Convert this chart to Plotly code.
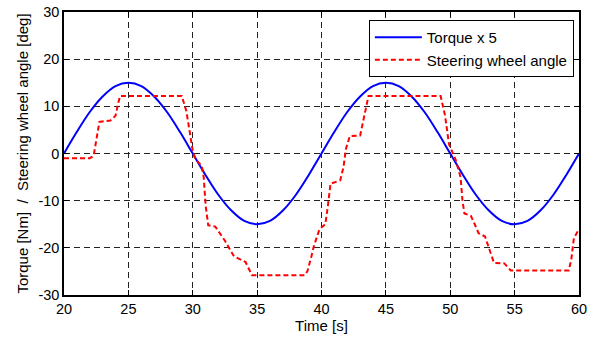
import plotly.graph_objects as go

# Torque x 5
torque_t = [20, 21, 22, 23, 24, 25, 26, 27, 28, 29, 30, 31, 32, 33, 34, 35, 36, 37, 38, 39, 40,
            41, 42, 43, 44, 45, 46, 47, 48, 49, 50, 51, 52, 53, 54, 55, 56, 57, 58, 59, 60]
torque_v = [0, 4.6, 8.8, 12.1, 14.3, 15, 14.3, 12.1, 8.8, 4.6, 0, -4.6, -8.8, -12.1, -14.3, -15,
            -14.3, -12.1, -8.8, -4.6, 0, 4.6, 8.8, 12.1, 14.3, 15, 14.3, 12.1, 8.8, 4.6, 0,
            -4.6, -8.8, -12.1, -14.3, -15, -14.3, -12.1, -8.8, -4.6, 0]

# Steering wheel angle
steer_t = [20, 22.0, 22.3, 22.5, 22.75, 23.6, 24.0, 24.2, 24.35, 29.15, 29.5, 29.8, 30.0, 30.2,
           30.7, 30.85, 31.0, 31.2, 31.75, 32.5, 33.2, 34.1, 34.4, 34.6, 38.7, 38.9, 39.2, 39.4,
           39.85, 40.3, 40.5, 40.7, 41.45, 41.7, 41.9, 42.2, 43.0, 43.3, 43.65, 49.25, 49.6,
           49.9, 50.4, 50.8, 50.95, 51.1, 51.6, 51.9, 52.2, 52.7, 53.1, 53.4, 54.2, 54.5, 54.7,
           59.2, 59.4, 59.6, 60]
steer_v = [-1, -1, -0.5, 3, 6.7, 7.0, 8.0, 10.5, 12.2, 12.2, 9, 4, 0.5, -1.2,
           -2.6, -5, -11, -15.2, -15.5, -18.5, -21.8, -23, -24.5, -25.8, -25.8, -25, -22, -19.7,
           -16, -15, -11, -6.4, -5.7, -3, 1, 3.7, 3.8, 8, 12.2, 12.2, 8,
           2, -1.2, -5, -10, -12.7, -13.2, -15, -16.9, -17.6, -21, -23.2, -23.3, -24.3, -24.8,
           -24.8, -22.5, -18, -16]

x_ticks = [20, 25, 30, 35, 40, 45, 50, 55, 60]
y_ticks = [-30, -20, -10, 0, 10, 20, 30]

FONT = "Liberation Sans, Arial"

fig = go.Figure()
fig.add_trace(go.Scatter(x=torque_t, y=torque_v, mode="lines", name="Torque x 5",
                         line=dict(color="#0000ff", width=2, shape="spline")))
fig.add_trace(go.Scatter(x=steer_t, y=steer_v, mode="lines", name="Steering wheel angle",
                         line=dict(color="#ff0000", width=2, dash="5px,3px")))

axis_common = dict(showline=True, linecolor="black", linewidth=1.5, mirror="ticks",
                   ticks="inside", ticklen=5, tickcolor="black", automargin=False,
                   showgrid=True, gridcolor="#222", gridwidth=1, griddash="6px,4px",
                   zeroline=False, tickfont=dict(family=FONT, size=14.5, color="black"))

fig.update_xaxes(range=[20, 60], tickvals=x_ticks, ticktext=[str(v) for v in x_ticks],
                 title=dict(text="Time [s]", font=dict(family=FONT, size=15, color="black"), standoff=3),
                 **axis_common)
fig.update_yaxes(range=[-30, 30], tickvals=y_ticks, ticktext=[str(v) for v in y_ticks],
                 title=dict(text="Torque [Nm]  /  Steering wheel angle [deg]",
                            font=dict(family=FONT, size=15, color="black"), standoff=6),
                 **axis_common)

fig.update_layout(
    width=595, height=340,
    margin=dict(l=64, r=16, t=12, b=45, autoexpand=False),
    paper_bgcolor="white", plot_bgcolor="white",
    showlegend=True,
    legend=dict(x=0.99, y=0.972, xanchor="right", yanchor="top",
                bgcolor="white", bordercolor="black", borderwidth=1,
                font=dict(family=FONT, size=15, color="black"),
                tracegroupgap=0, itemwidth=47),
)

fig.write_html("out.html", config={"displayModeBar": False},
               post_script="document.body.style.margin='0px';document.body.style.padding='0px';")
